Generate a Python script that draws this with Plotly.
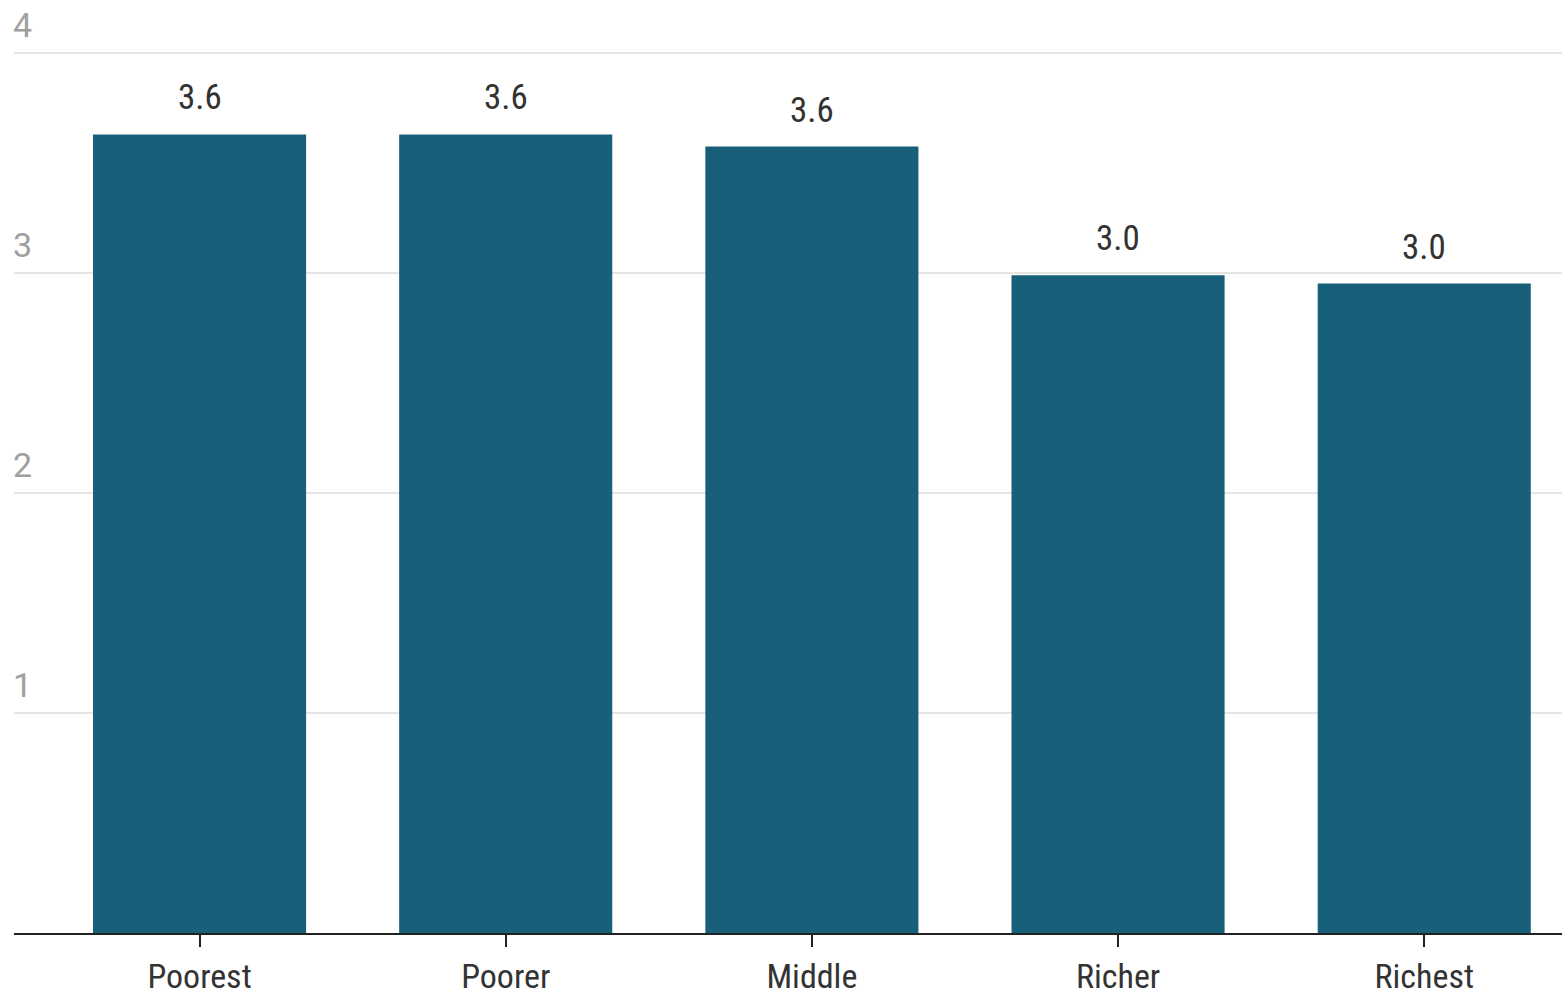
import plotly.graph_objects as go

categories = ["Poorest", "Poorer", "Middle", "Richer", "Richest"]
values = [3.63, 3.63, 3.575, 2.99, 2.952]
y_ticks = [1, 2, 3, 4]

FONT = "Roboto Condensed, Liberation Sans Narrow, DejaVu Sans Condensed, Roboto, sans-serif"

fig = go.Figure()
fig.add_trace(go.Bar(
    x=categories, y=values,
    marker=dict(color="#18607A", line=dict(width=0)),
    hoverinfo="skip",
))

annotations = []
for c, v in zip(categories, values):
    annotations.append(dict(
        x=c, y=v, xref="x", yref="y", text=f"{v:.1f}",
        showarrow=False, yanchor="bottom", yshift=14,
        font=dict(family=FONT, size=35, color="#333333"),
    ))

fig.update_layout(
    width=1562, height=997,
    margin=dict(l=14, r=0, t=0, b=64),
    paper_bgcolor="white", plot_bgcolor="white",
    bargap=0.304,
    showlegend=False,
    annotations=annotations,
    font=dict(family=FONT),
    xaxis=dict(
        type="category", range=[-0.606, 4.45],
        showline=True, linecolor="#222222", linewidth=2,
        ticks="outside", ticklen=12, tickwidth=2, tickcolor="#222222",
        showgrid=False, ticklabelstandoff=0, automargin=False,
        tickfont=dict(family=FONT, size=34, color="#333333"),
    ),
    yaxis=dict(
        range=[0, 933 / 220], automargin=False,
        tickvals=y_ticks, ticktext=[str(t) for t in y_ticks],
        showgrid=True, gridcolor="#e5e5e5", gridwidth=2,
        zeroline=False, showline=False,
        ticklabelposition="inside", ticklabelshift=-28, ticklabelstandoff=-4,
        tickfont=dict(family="Roboto, sans-serif", size=34, color="#a0a0a0"),
    ),
)

fig.write_html("out.html", config={"displayModeBar": False},
               post_script="document.body.style.margin='0';")
